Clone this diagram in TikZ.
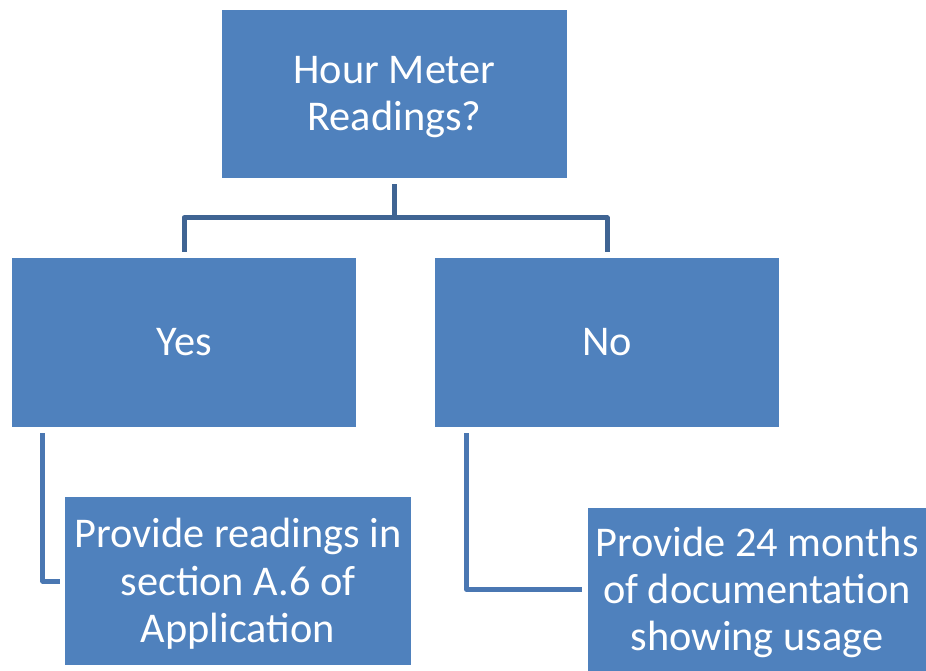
\documentclass[tikz,border=0pt]{standalone}
\usepackage{fontspec}
\setmainfont{Carlito}
\usetikzlibrary{calc}
\definecolor{boxblue}{HTML}{4F81BD}
\definecolor{connA}{HTML}{3F6493}
\definecolor{connB}{HTML}{4A77B2}
\tikzset{
  box/.style={fill=boxblue, draw=none, inner sep=0pt},
  txt/.style={text=white, align=center, inner sep=0pt,
    font=\fontsize{42.5}{47.5}\selectfont, yshift=-3bp},
  conn/.style={line width=5bp, line join=round, line cap=butt}
}
\begin{document}
\begin{tikzpicture}[x=1bp,y=-1bp]
\useasboundingbox (0,0) rectangle (926,671);
\node[box, minimum width=345bp, minimum height=168bp,
  label={[txt]center:{Hour Meter\\Readings?}}] (top) at (394.5,94) {};
\node[box, minimum width=344bp, minimum height=169bp,
  label={[txt, yshift=3bp]center:{Yes}}] (yes) at (184,342.5) {};
\node[box, minimum width=344bp, minimum height=169bp,
  label={[txt, yshift=3bp]center:{No}}] (no) at (607,342.5) {};
\node[box, minimum width=345bp, minimum height=168bp,
  label={[txt]center:{Provide readings in\\section A.6 of\\Application}}] (bl) at (238,581) {};
\node[box, minimum width=338bp, minimum height=163bp,
  label={[txt]center:{Provide 24 months\\of documentation\\showing usage}}] (br) at (757,589.5) {};
\draw[conn, connA] ($(top.south)+(0,6)$) -- ($(top.south)+(0,40)$);
\draw[conn, connA] ($(yes.north)+(0,-6)$) |- ($(no.north)+(0,-40)$) -- ($(no.north)+(0,-6)$);
\draw[conn, connB] ($(yes.south west)+(31,6)$) |- ($(bl.west)+(-5,0)$);
\draw[conn, connB] ($(no.south west)+(32,6)$) |- ($(br.west)+(-6,0)$);
\end{tikzpicture}
\end{document}
